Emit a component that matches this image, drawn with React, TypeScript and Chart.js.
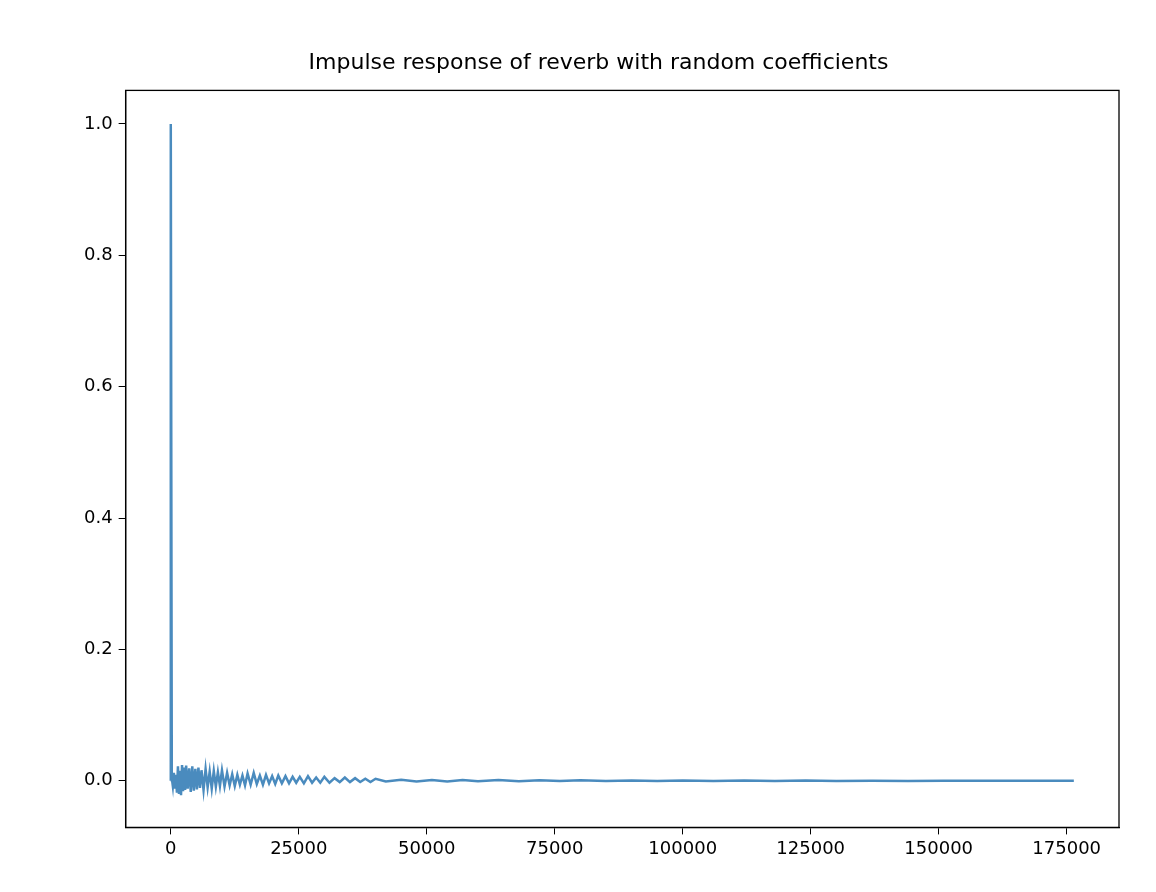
import React, { useEffect, useRef } from "react";
import { Chart, registerables } from "chart.js";
Chart.register(...registerables);

const xEarly = [0, 1, 200, 400, 600, 800, 1000, 1200, 1400, 1600, 1800, 2000, 2200, 2400, 2600, 2800, 3000, 3300, 3600, 3900, 4200, 4500, 4800, 5100, 5400, 5700, 6000, 6400, 6800, 7200, 7600, 8000, 8400, 8800, 9200, 9600, 10000, 10500, 11000, 11500, 12000, 12500, 13000, 13500, 14000, 14500, 15000, 15600, 16200, 16800, 17400, 18000, 18600, 19200, 19800, 20400, 21000, 21700, 22400, 23100, 23800, 24500, 25200, 26000, 26800, 27600, 28400, 29200, 30000, 31000, 32000, 33000, 34000, 35000, 36000, 37000, 38000, 39000, 40000];
const yEarly = [0, 1.0, 0.004, -0.008, 0.012, -0.012, 0.009, -0.018, 0.022, -0.02, 0.015, -0.022, 0.024, -0.016, 0.02, -0.014, 0.023, -0.012, 0.019, -0.017, 0.022, -0.015, 0.018, -0.013, 0.02, -0.011, 0.016, -0.014, 0.018, -0.01, 0.014, -0.012, 0.015, -0.009, 0.013, -0.008, 0.016, -0.009, 0.012, -0.007, 0.01, -0.008, 0.009, -0.006, 0.008, -0.007, 0.011, -0.006, 0.012, -0.005, 0.008, -0.006, 0.009, -0.004, 0.007, -0.005, 0.008, -0.004, 0.007, -0.004, 0.006, -0.003, 0.006, -0.004, 0.007, -0.003, 0.005, -0.003, 0.006, -0.003, 0.004, -0.002, 0.005, -0.002, 0.004, -0.002, 0.003, -0.002, 0.003];
const xLate = [42000, 45000, 48000, 51000, 54000, 57000, 60000, 64000, 68000, 72000, 76000, 80000, 85000, 90000, 95000, 100000, 106000, 112000, 118000, 124000, 130000, 137000, 144000, 151000, 158000, 165000, 172000, 176400];
const yLate = [-0.001, 0.0015, -0.001, 0.001, -0.001, 0.001, -0.0008, 0.001, -0.0007, 0.0007, -0.0005, 0.0006, -0.0005, 0.0005, -0.0004, 0.0004, -0.0003, 0.0003, -0.0003, 0.0003, -0.0002, 0.0002, -0.0002, 0.0002, -0.0001, 0.0001, -0.0001, 0];
const xTicks = [0, 25000, 50000, 75000, 100000, 125000, 150000, 175000];
const yTicks = [0, 0.2, 0.4, 0.6, 0.8, 1.0];

const boxPlugin = {
  id: "box",
  afterDraw(chart: any) {
    const { ctx, chartArea: a } = chart;
    ctx.save();
    ctx.strokeStyle = "#000";
    ctx.lineWidth = 1.3;
    ctx.strokeRect(a.left, a.top, a.right - a.left, a.bottom - a.top);
    ctx.restore();
  },
};

export default function App() {
  const ref = useRef<HTMLCanvasElement>(null);
  useEffect(() => {
    document.body.style.margin = "0";
    const xs = [...xEarly, ...xLate];
    const ys = [...yEarly, ...yLate];
    const data = xs.map((x, i) => ({ x, y: ys[i] }));
    const font = { family: "DejaVu Sans", size: 18 };
    const chart = new Chart(ref.current!, {
      type: "line",
      data: {
        datasets: [{ data, borderColor: "#4a8bbe", borderWidth: 2.5, pointRadius: 0, tension: 0 }],
      },
      options: {
        animation: false,
        responsive: false,
        layout: { padding: { left: 78, right: 37, top: 10, bottom: 28 } },
        plugins: {
          legend: { display: false },
          tooltip: { enabled: false },
          title: {
            display: true,
            text: "Impulse response of reverb with random coefficients",
            color: "#000",
            font: { family: "DejaVu Sans", size: 22, weight: "normal" },
            padding: { top: 40, bottom: 14 },
          },
        },
        scales: {
          x: {
            type: "linear",
            min: -8820,
            max: 185220,
            afterBuildTicks: (s: any) => { s.ticks = xTicks.map((v) => ({ value: v })); },
            ticks: { color: "#000", font, maxRotation: 0, padding: 4, callback: (v: any) => String(v) },
            grid: { drawOnChartArea: false, color: "#000", tickLength: 7 },
            border: { color: "#000", width: 1.3 },
          },
          y: {
            type: "linear",
            min: -0.071,
            max: 1.051,
            afterBuildTicks: (s: any) => { s.ticks = yTicks.map((v) => ({ value: v })); },
            ticks: { color: "#000", font, padding: 6, callback: (v: any) => Number(v).toFixed(1) },
            grid: { drawOnChartArea: false, color: "#000", tickLength: 7 },
            border: { color: "#000", width: 1.3 },
          },
        },
      },
      plugins: [boxPlugin],
    });
    return () => chart.destroy();
  }, []);
  return <canvas ref={ref} width={1156} height={892} style={{ display: "block" }} />;
}
